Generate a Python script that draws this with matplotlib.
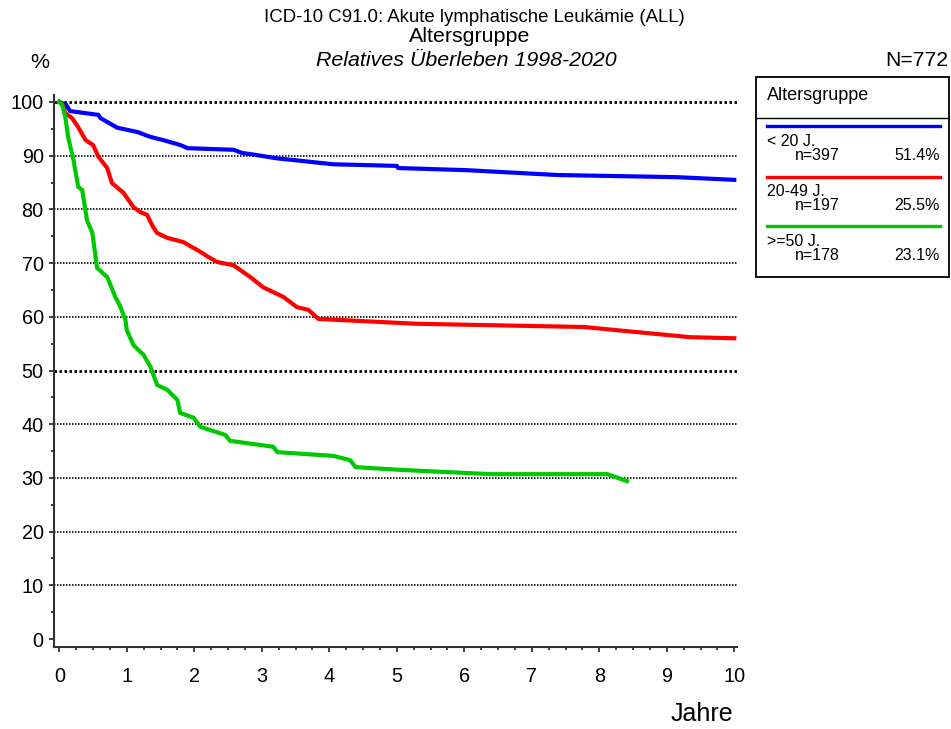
import numpy as np
import matplotlib
matplotlib.use('Agg')
import matplotlib.pyplot as plt
from matplotlib.patches import Rectangle
from matplotlib.lines import Line2D
from matplotlib.ticker import MultipleLocator

plt.rcParams['font.family'] = ['Liberation Sans', 'DejaVu Sans']

# Daten
blue_t = [0, 0.1, 0.16, 0.58, 0.61, 0.86, 1.16, 1.35, 1.54, 1.79, 1.9, 2.58, 2.71, 2.83, 3.23,
          3.61, 4.06, 5.0, 5.02, 6.04, 7.38, 9.15, 10.0]
blue_s = [100, 99.5, 98.3, 97.6, 97.0, 95.2, 94.4, 93.5, 92.9, 92.0, 91.4, 91.1, 90.5, 90.3, 89.5,
          89.0, 88.4, 88.1, 87.7, 87.3, 86.4, 86.0, 85.5]

red_t = [0, 0.05, 0.09, 0.19, 0.28, 0.39, 0.5, 0.58, 0.71, 0.78, 0.95, 1.1, 1.2, 1.3, 1.39, 1.45,
         1.6, 1.84, 2.09, 2.2, 2.34, 2.58, 2.83, 3.02, 3.32, 3.52, 3.69, 3.84, 5.3, 7.77, 9.35, 10.0]
red_s = [100, 99.5, 97.9, 97.0, 95.3, 92.9, 92.0, 89.8, 87.7, 84.9, 83.1, 80.4, 79.5, 79.0, 76.7, 75.6,
         74.7, 73.9, 72.1, 71.2, 70.2, 69.6, 67.4, 65.5, 63.7, 61.8, 61.3, 59.6, 58.7, 58.1, 56.2, 56.0]

green_t = [0, 0.04, 0.09, 0.13, 0.21, 0.28, 0.34, 0.41, 0.49, 0.56, 0.71, 0.83, 0.9, 0.98, 1.0, 1.1, 1.25,
           1.35, 1.45, 1.6, 1.75, 1.79, 1.99, 2.09, 2.46, 2.53, 3.17, 3.23, 4.06, 4.31, 4.39, 5.05,
           6.39, 8.12, 8.41]
green_s = [100, 99.5, 97.2, 93.5, 89.2, 84.2, 83.6, 78.0, 75.6, 69.1, 67.4, 63.7, 62.0, 59.4, 57.5, 54.7, 52.9,
           50.7, 47.3, 46.4, 44.5, 42.1, 41.2, 39.5, 38.0, 36.9, 35.8, 34.8, 34.1, 33.3, 32.0, 31.5,
           30.7, 30.7, 29.4]

groups = ['< 20 J.', '20-49 J.', '>=50 J.']
n_vals = [397, 197, 178]
pct = ['51.4%', '25.5%', '23.1%']
colors = ['#0000ff', '#ff0000', '#00c800']

W, H = 951, 729
def fx(px): return px / W
def fy(py): return 1 - py / H

fig = plt.figure(figsize=(W / 100, H / 100), dpi=100)
ax = fig.add_axes([fx(54.3), fy(646.7), (737 - 54.3) / W, (646.7 - 95) / H])

ax.set_xlim(-0.074, 10.04)
ax.set_ylim(-1.43, 101.3)

for g in range(10, 101, 10):
    lw = 2.0 if g in (50, 100) else 1.2
    ax.axhline(g, color='black', lw=lw, ls=(0, (0.9, 0.9)), zorder=1)

for t, s, c in zip([blue_t, red_t, green_t], [blue_s, red_s, green_s], colors):
    ax.plot(t, s, color=c, lw=3, zorder=3, solid_joinstyle='round')

ax.spines['top'].set_visible(False)
ax.spines['right'].set_visible(False)
ax.spines['left'].set_linewidth(1.5)
ax.spines['bottom'].set_linewidth(1.5)
ax.spines['left'].set_color('#333333')
ax.spines['bottom'].set_color('#333333')

ax.xaxis.set_major_locator(MultipleLocator(1))
ax.xaxis.set_minor_locator(MultipleLocator(0.25))
ax.yaxis.set_major_locator(MultipleLocator(10))
ax.yaxis.set_minor_locator(MultipleLocator(5))
ax.tick_params(which='major', length=3.6, width=1.3, labelsize=14.3, color='#333333')
ax.tick_params(which='minor', length=2.2, width=1.3, color='#333333')
ax.tick_params(axis='x', which='major', pad=11)
ax.tick_params(axis='y', which='major', pad=4)

# Titel
fig.text(fx(474.5), fy(18), 'ICD-10 C91.0: Akute lymphatische Leukämie (ALL)', ha='center', va='center', fontsize=13.4)
fig.text(fx(469.5), fy(37), 'Altersgruppe', ha='center', va='center', fontsize=15.4)
fig.text(fx(466.5), fy(60), 'Relatives Überleben 1998-2020', ha='center', va='center', fontsize=15.4, style='italic')
fig.text(fx(40), fy(62), '%', ha='center', va='center', fontsize=15.4)
fig.text(fx(948), fy(60), 'N=772', ha='right', va='center', fontsize=15.2)
fig.text(fx(702), fy(714), 'Jahre', ha='center', va='center', fontsize=18)

# Legende
fig.patches.append(Rectangle((fx(756), fy(277)), (949 - 756) / W, (277 - 77) / H,
                             transform=fig.transFigure, fill=False, lw=1.3, edgecolor='black'))
fig.lines.append(Line2D([fx(756), fx(949)], [fy(118), fy(118)], transform=fig.transFigure, color='black', lw=1.0))
fig.text(fx(767), fy(96), 'Altersgruppe', ha='left', va='center', fontsize=13)
line_y = [126, 177, 226]
for i in range(3):
    y0 = line_y[i]
    fig.lines.append(Line2D([fx(767), fx(940)], [fy(y0), fy(y0)], transform=fig.transFigure,
                            color=colors[i], lw=2.4))
    fig.text(fx(767), fy(y0 + 15), groups[i], ha='left', va='center', fontsize=11.5)
    fig.text(fx(795), fy(y0 + 29), 'n=%d' % n_vals[i], ha='left', va='center', fontsize=11.5)
    fig.text(fx(940), fy(y0 + 29), pct[i], ha='right', va='center', fontsize=11.5)

fig.savefig('out.png', dpi=100)
